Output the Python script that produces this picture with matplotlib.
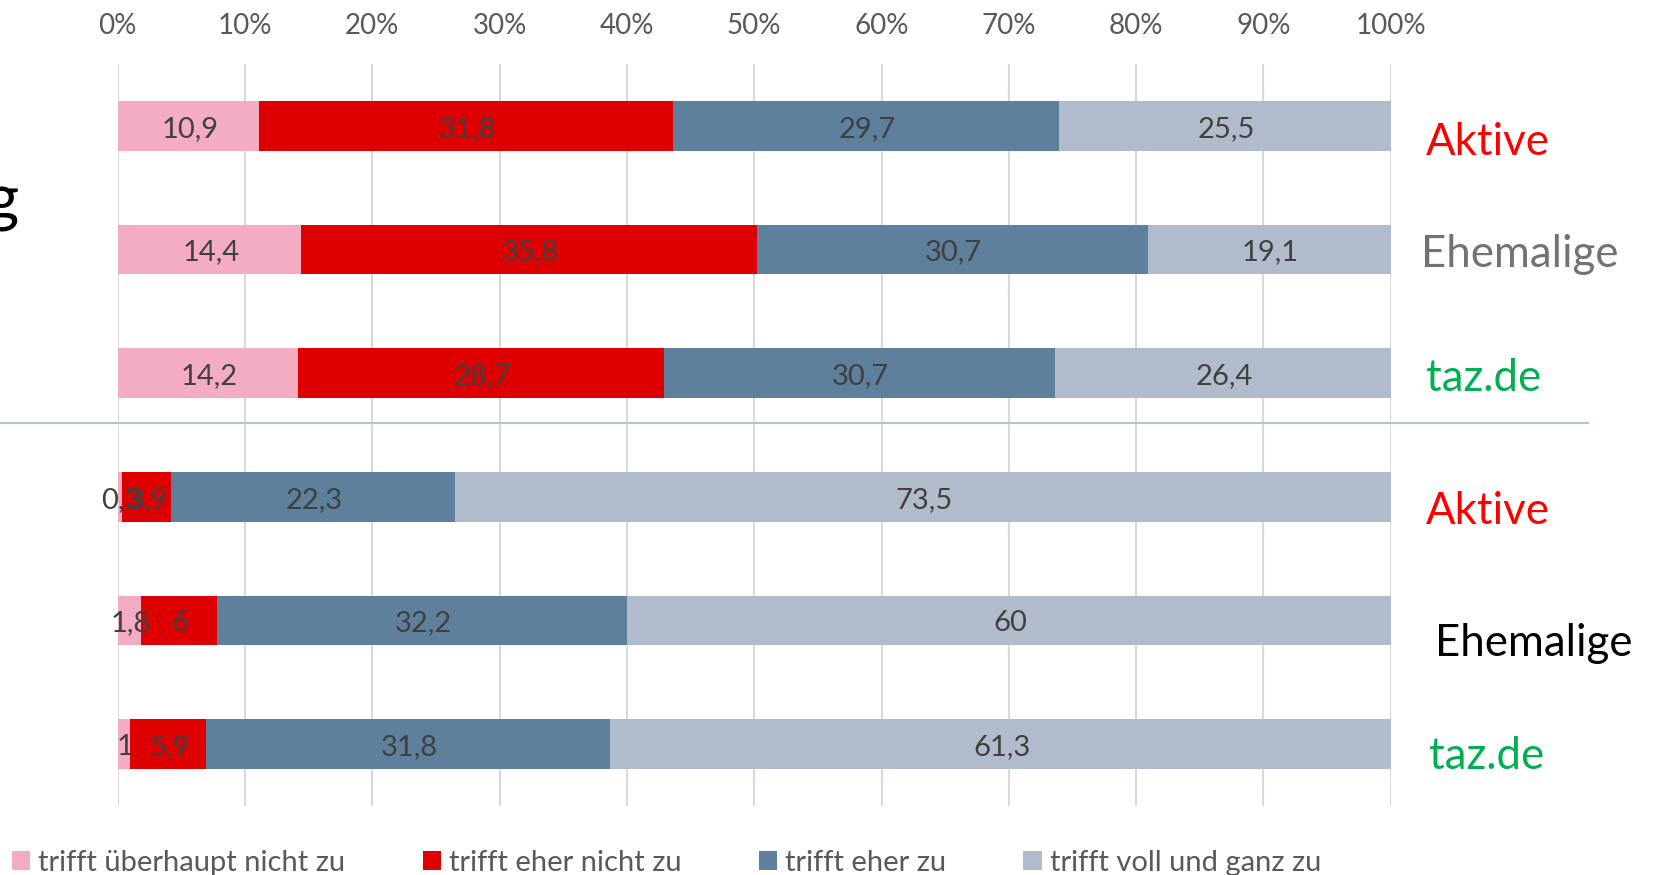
import numpy as np
import matplotlib.pyplot as plt

plt.rcParams['font.family'] = ['Lato', 'DejaVu Sans']

# Data
gruppen = ['Aktive', 'Ehemalige', 'taz.de', 'Aktive', 'Ehemalige', 'taz.de']
kategorien = ['trifft überhaupt nicht zu', 'trifft eher nicht zu',
              'trifft eher zu', 'trifft voll und ganz zu']
ueberhaupt_nicht = [10.9, 14.4, 14.2, 0.3, 1.8, 1]
eher_nicht = [31.8, 35.8, 28.7, 3.9, 6, 5.9]
eher_zu = [29.7, 30.7, 30.7, 22.3, 32.2, 31.8]
voll_und_ganz = [25.5, 19.1, 26.4, 73.5, 60, 61.3]
prozent_ticks = [0, 10, 20, 30, 40, 50, 60, 70, 80, 90, 100]

farben = ['#F4ACC2', '#DE0000', '#5F809C', '#B0BCCB']
gruppen_farben = ['#FF0000', '#767171', '#00B050', '#FF0000', '#000000', '#00B050']

W, H = 1654, 875
fig = plt.figure(figsize=(W / 100, H / 100), dpi=100)
ax = fig.add_axes([117.7 / W, 1 - 806 / H, 1273 / W, 742 / H])

# 100% gestapelte Balken
serien = np.array([ueberhaupt_nicht, eher_nicht, eher_zu, voll_und_ganz], dtype=float)
anteile = serien / serien.sum(axis=0) * 100
y = np.arange(len(gruppen))
links = np.zeros(len(gruppen))
for werte, anteil, farbe, name in zip(serien, anteile, farben, kategorien):
    bars = ax.barh(y, anteil, left=links, height=0.4, color=farbe, label=name)
    texte = [f'{v:g}'.replace('.', ',') for v in werte]
    annots = ax.bar_label(bars, labels=texte, label_type='center', fontsize=21,
                          color='#404040')
    for a in annots:
        a.xyann = (1, -2)  # etwas tiefer, wie im Original
    links += anteil

ax.set_xlim(0, 100)
ax.set_ylim(len(gruppen) - 0.5, -0.5)
ax.set_xticks(prozent_ticks)
ax.set_xticklabels([f'{t}%' for t in prozent_ticks])
ax.xaxis.tick_top()
ax.tick_params(axis='x', length=0, labelsize=20, labelcolor='#595959', pad=18)
ax.set_yticks([])
ax.grid(axis='x', color='#D9D9D9', linewidth=1.5)
ax.set_axisbelow(True)
for s in ax.spines.values():
    s.set_visible(False)

# Trennlinie zwischen den Blöcken
ax.axhline(2.4, xmin=-117.7 / 1273, xmax=(1588 - 117.7) / 1273,
           color='#B4C5D2', linewidth=1.5, clip_on=False)

# Gruppennamen rechts
label_x = [1426, 1421, 1426, 1426, 1435, 1429]
label_y = [155, 267, 391, 524, 656, 769]
for name, farbe, lx, ly in zip(gruppen, gruppen_farben, label_x, label_y):
    fig.text(lx / W, 1 - ly / H, name, color=farbe, fontsize=31.5, va='baseline')

# abgeschnittener Titel links
fig.text(19 / W, 1 - 220 / H, 'g', fontsize=46, ha='right', va='baseline', color='black')

# Legende
fig.legend(loc='center left', bbox_to_anchor=(12 / W, 1 - 863 / H), ncol=4,
           frameon=False, fontsize=21, labelcolor='#595959',
           handlelength=0.62, handleheight=0.62, handletextpad=0.28,
           columnspacing=2.65, borderpad=0, borderaxespad=0)

fig.savefig('out.png', dpi=100)
